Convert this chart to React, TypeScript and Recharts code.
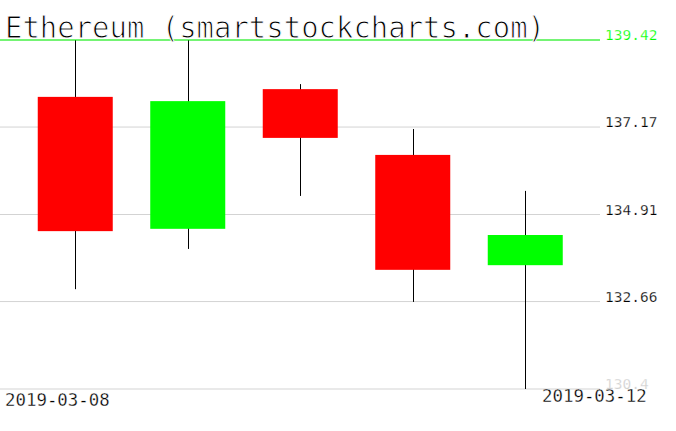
import React from "react";
import { ComposedChart, Bar, XAxis, YAxis, CartesianGrid, ReferenceLine } from "recharts";

const dates = ["2019-03-08", "2019-03-09", "2019-03-10", "2019-03-11", "2019-03-12"];
const opens = [137.95, 134.54, 138.15, 136.45, 133.6];
const highs = [139.42, 139.42, 138.28, 137.12, 135.52];
const lows = [132.98, 134.02, 135.39, 132.65, 130.4];
const closes = [134.48, 137.84, 136.89, 133.48, 134.38];
const yTicks = [130.4, 132.66, 134.91, 137.17, 139.42];
const title = "Ethereum (smartstockcharts.com)";

const data = dates.map((d, i) => ({
  date: d,
  open: opens[i],
  high: highs[i],
  low: lows[i],
  close: closes[i],
  range: [lows[i], highs[i]],
}));

const Candle = (props: any) => {
  const { x, y, width, height, payload } = props;
  const { open, close, high, low } = payload;
  const span = high - low || 1;
  const toY = (v: number) => y + ((high - v) / span) * height;
  const cx = Math.round(x + width / 2) + 0.5;
  const top = toY(Math.max(open, close));
  const bot = toY(Math.min(open, close));
  const up = close >= open;
  return (
    <g>
      <line x1={cx} x2={cx} y1={y} y2={y + height} stroke="#000" strokeWidth={1} />
      <rect x={x} y={top} width={width} height={Math.max(1, bot - top)} fill={up ? "#00ff00" : "#ff0000"} />
    </g>
  );
};

const YTick = (props: any) => {
  const { x, y, payload } = props;
  const v = payload.value;
  const fill = v === yTicks[yTicks.length - 1] ? "#00ff00" : v === yTicks[0] ? "#d0d0d0" : "#000";
  return (
    <text x={x + 5} y={y} textAnchor="start" fontSize={14.5} fontFamily="DejaVu Sans Mono" fill={fill} stroke="#fff" strokeWidth={0.25}>
      {String(v)}
    </text>
  );
};

const XTick = (props: any) => {
  const { x, y, payload, index } = props;
  if (index === 0) {
    return (
      <text x={x - 70} y={y + 17} textAnchor="start" fontSize={17.4} fontFamily="DejaVu Sans Mono" fill="#000" stroke="#fff" strokeWidth={0.3}>
        {payload.value}
      </text>
    );
  }
  if (index === dates.length - 1) {
    return (
      <text x={x + 17} y={y + 13} textAnchor="start" fontSize={17.4} fontFamily="DejaVu Sans Mono" fill="#000" stroke="#fff" strokeWidth={0.3}>
        {payload.value}
      </text>
    );
  }
  return null;
};

export default function App() {
  return (
    <div style={{ position: "absolute", left: 0, top: 0, width: 676, height: 431, background: "#fff" }}>
      <ComposedChart width={676} height={431} data={data} margin={{ top: 40, right: 0, bottom: 0, left: 0 }}>
        <CartesianGrid horizontal vertical={false} stroke="#d3d3d3" />
        <XAxis
          dataKey="date"
          height={42}
          padding={{ left: 18.75, right: 18.75 }}
          axisLine={false}
          tickLine={false}
          tickSize={0}
          tickMargin={0}
          interval={0}
          tick={<XTick />}
        />
        <YAxis
          orientation="right"
          width={76}
          domain={[yTicks[0], yTicks[yTicks.length - 1]]}
          ticks={yTicks}
          allowDataOverflow
          axisLine={false}
          tickLine={false}
          tickSize={0}
          tickMargin={0}
          tick={<YTick />}
        />
        <ReferenceLine y={yTicks[yTicks.length - 1]} stroke="#00ff00" strokeWidth={1} />
        <Bar dataKey="range" barSize={75} shape={<Candle />} isAnimationActive={false} />
      </ComposedChart>
      <svg width={676} height={431} style={{ position: "absolute", left: 0, top: 0, pointerEvents: "none" }}>
        <text
          x={5}
          y={38}
          fontSize={29.5}
          fontFamily="DejaVu Sans Mono"
          textLength={540}
          lengthAdjust="spacingAndGlyphs"
          fill="#000"
          stroke="#fff"
          strokeWidth={1}
        >
          {title}
        </text>
      </svg>
    </div>
  );
}
